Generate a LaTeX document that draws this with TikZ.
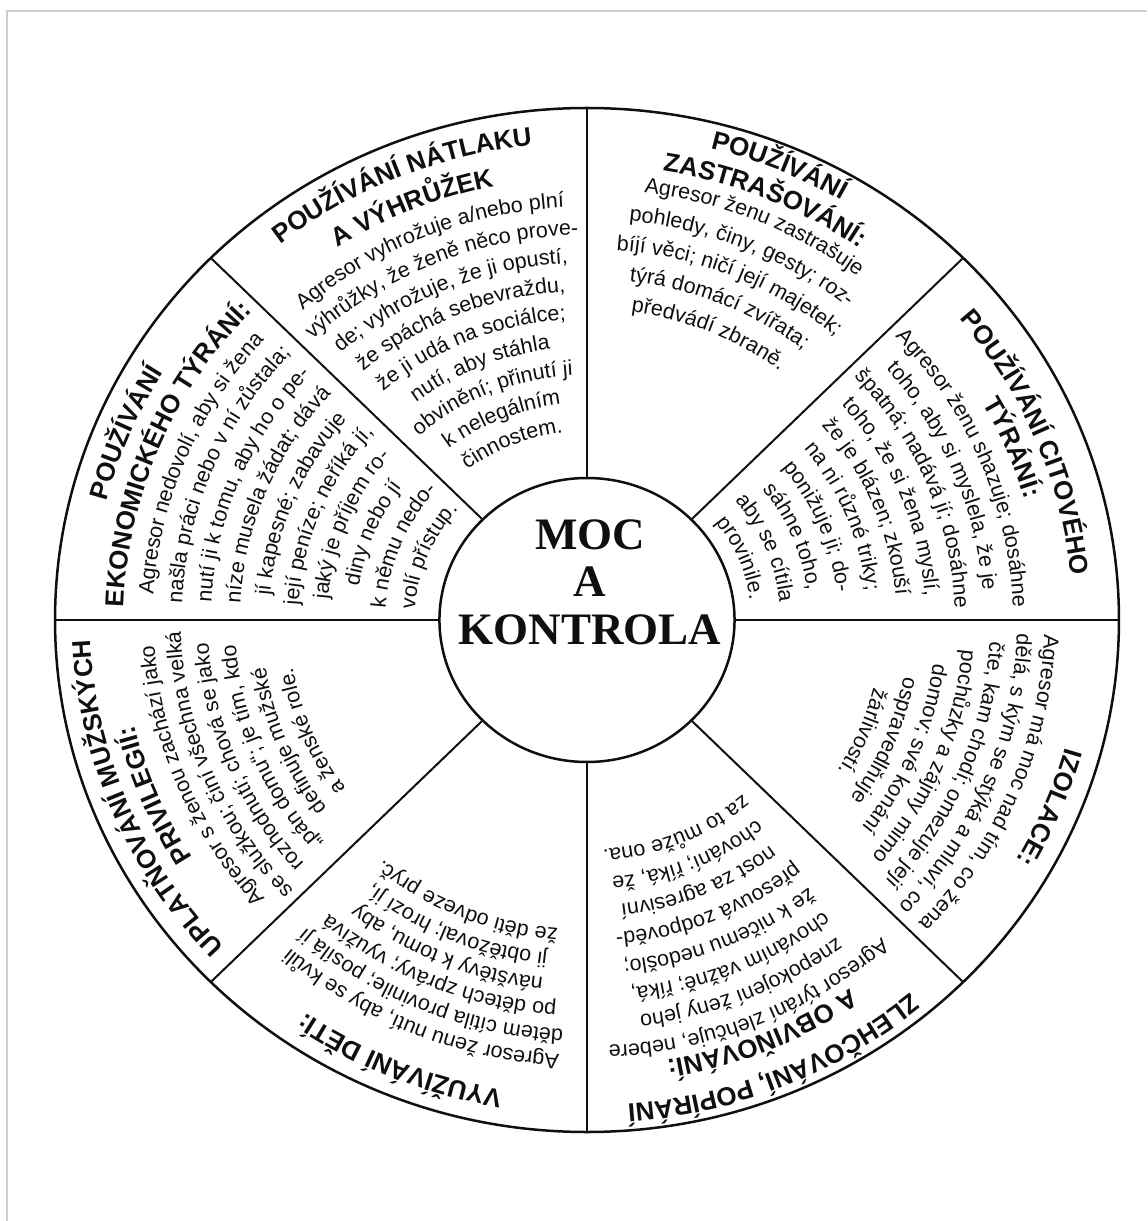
\documentclass[tikz,border=0pt]{standalone}
\usepackage{fontspec}
\setmainfont{Liberation Sans}
\newfontfamily\hubfont{Liberation Serif}
\usepackage{tikz}
\usetikzlibrary{decorations.text}
\definecolor{WheelInk}{RGB}{15,15,15}
\definecolor{FrameGray}{RGB}{205,205,205}
\newcommand{\bodyfont}{\fontsize{10.75}{12}\selectfont}
\newcommand{\headfont}{\fontsize{13}{15}\selectfont\bfseries}
% one line of text bent along the wheel, centred on angle #1, baseline radius #2
\newcommand{\arcline}[4]{%
  \path[decorate, decoration={text along path, text align=center,
      text color=WheelInk, text={|#3|#4}}]
    ({#1+40}:#2) arc[start angle={#1+40}, end angle={#1-40}, radius=#2];}
% a block of body lines, first baseline #2, line step #3
\newcommand{\arcblock}[4]{%
  \foreach \ltext [count=\lnum from 0] in {#4} {%
    \pgfmathsetmacro{\rad}{#2-#3*\lnum}%
    \edef\next{\noexpand\arcline{#1}{\rad}{\noexpand\bodyfont}{\ltext}}\next}}

\begin{document}
\begin{tikzpicture}[x=0.5195pt, y=0.5pt,
    rim/.style={WheelInk, line width=1.25pt},
    spoke/.style={WheelInk, line width=1pt}]
  \useasboundingbox (-293.5pt,-300.5pt) rectangle (280pt,310pt);
  \draw[FrameGray, line width=0.6pt] (-290pt,-300.5pt) -- (-290pt,304.5pt) -- (280pt,304.5pt);
  \def\R{512}
  \def\r{142}
  \draw[rim] (0,0) circle (\R);
  \draw[rim] (0,0) circle (\r);
  \foreach \a in {0,45,...,315}
    \draw[spoke] (\a:\r) -- (\a:\R);
  \node[font=\hubfont\bfseries\fontsize{22.5}{23.75}\selectfont, align=center,
        text=WheelInk] (hub) at (3,38) {MOC\\A\\KONTROLA};

  % nátlak a výhrůžky
  \arcline{112.5}{478}{\headfont}{POUŽÍVÁNÍ NÁTLAKU}
  \arcline{112.5}{443}{\headfont}{A VÝHRŮŽEK}
  \arcblock{112.5}{413}{28}{{Agresor vyhrožuje a/nebo plní},{výhrůžky, že ženě něco prove-},
    {de; vyhrožuje, že ji opustí,},{že spáchá sebevraždu,},{že ji udá na sociálce;},
    {nutí, aby stáhla},{obvinění; přinutí ji},{k nelegálním},{činnostem.}}
  % zastrašování
  \arcline{67.5}{486}{\headfont}{POUŽÍVÁNÍ}
  \arcline{67.5}{455}{\headfont}{ZASTRAŠOVÁNÍ:}
  \arcblock{67.5}{431}{30}{{Agresor ženu zastrašuje},{pohledy, činy, gesty; roz-},
    {bíjí věci; ničí její majetek;},{týrá domácí zvířata;},{předvádí zbraně.}}
  % citové týrání
  \arcline{22.5}{468}{\headfont}{POUŽÍVÁNÍ CITOVÉHO}
  \arcline{22.5}{438}{\headfont}{TÝRÁNÍ:}
  \arcblock{22.5}{410}{28}{{Agresor ženu shazuje; dosáhne},{toho, aby si myslela, že je},
    {špatná; nadává jí; dosáhne},{toho, že si žena myslí,},{že je blázen; zkouší},
    {na ni různé triky;},{ponižuje ji; do-},{sáhne toho,},{aby se cítila},{provinile.}}
  % ekonomické týrání
  \arcline{157.5}{477}{\headfont}{POUŽÍVÁNÍ}
  \arcline{157.5}{446}{\headfont}{EKONOMICKÉHO TÝRÁNÍ:}
  \arcblock{157.5}{418}{28}{{Agresor nedovolí, aby si žena},{našla práci nebo v ní zůstala;},
    {nutí ji k tomu, aby ho o pe-},{níze musela žádat; dává},{jí kapesné; zabavuje},
    {její peníze; neříká jí,},{jaký je příjem ro-},{diny nebo jí},{k němu nedo-},
    {volí přístup.}}
  % mužská privilegia
  \arcline{202.5}{478}{\headfont}{UPLATŇOVÁNÍ MUŽSKÝCH}
  \arcline{202.5}{448}{\headfont}{PRIVILEGIÍ:}
  \arcblock{202.5}{417}{26}{{Agresor s ženou zachází jako},{se služkou; činí všechna velká},
    {rozhodnutí; chová se jako},{„pán domu“; je tím, kdo},{definuje mužské},
    {a ženské role.}}
  % děti
  \arcline{247.5}{477}{\headfont}{VYUŽÍVÁNÍ DĚTÍ:}
  \arcblock{247.5}{435}{25}{{Agresor ženu nutí, aby se kvůli},{dětem cítila provinile; posílá jí},
    {po dětech zprávy; využívá},{návštěvy k tomu, aby},{ji obtěžoval; hrozí jí,},
    {že děti odveze pryč.}}
  % zlehčování
  \arcline{292.5}{486}{\headfont}{ZLEHČOVÁNÍ, POPÍRÁNÍ}
  \arcline{292.5}{447}{\headfont}{A OBVIŇOVÁNÍ:}
  \arcblock{292.5}{426}{28}{{Agresor týrání zlehčuje, nebere},{znepokojení ženy jeho},
    {chováním vážně; říká,},{že k ničemu nedošlo;},{přesouvá zodpověd-},
    {nost za agresivní},{chování; říká, že},{za to může ona.}}
  % izolace
  \arcline{337.5}{478}{\headfont}{IZOLACE:}
  \arcblock{337.5}{440}{26}{{Agresor má moc nad tím, co žena},{dělá, s kým se stýká a mluví, co},
    {čte, kam chodí; omezuje její},{pochůzky a zájmy mimo},{domov; své konání},
    {ospravedlňuje},{žárlivostí.}}
\end{tikzpicture}
\end{document}
